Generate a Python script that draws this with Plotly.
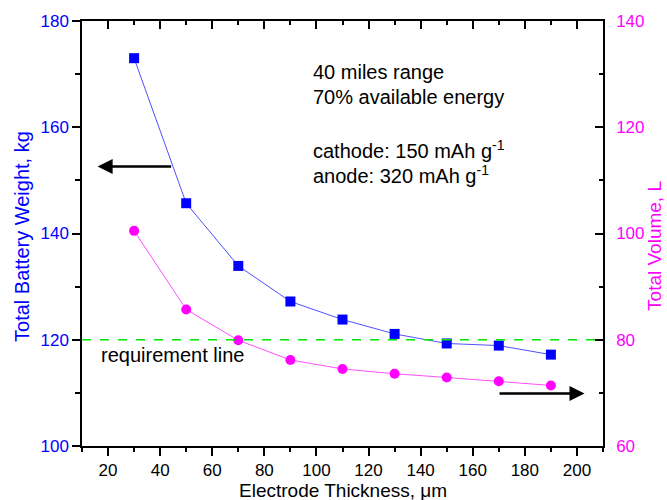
import plotly.graph_objects as go

thickness = [30, 50, 70, 90, 110, 130, 150, 170, 190]
weight_kg = [173.0, 145.7, 133.9, 127.2, 123.8, 121.1, 119.3, 118.9, 117.2]
volume_L = [100.5, 85.7, 79.9, 76.2, 74.5, 73.6, 72.9, 72.2, 71.4]
requirement_kg = 120

x_ticks = [20, 40, 60, 80, 100, 120, 140, 160, 180, 200]

FONT = "Arial, Liberation Sans, sans-serif"
BLUE = "#0000ff"
MAGENTA = "#ff00ff"

fig = go.Figure()

fig.add_trace(go.Scatter(
    x=thickness, y=weight_kg, mode="lines+markers",
    line=dict(color="#5050ff", width=1),
    marker=dict(symbol="square", size=10, color=BLUE),
    xaxis="x", yaxis="y", showlegend=False))

fig.add_trace(go.Scatter(
    x=thickness, y=volume_L, mode="lines+markers",
    line=dict(color="#ff50ff", width=1),
    marker=dict(symbol="circle", size=10, color=MAGENTA),
    xaxis="x", yaxis="y2", showlegend=False))

# dummy trace to draw the mirrored top axis
fig.add_trace(go.Scatter(x=[None], y=[None], xaxis="x2", yaxis="y",
                         showlegend=False, hoverinfo="skip"))

fig.add_shape(type="line", xref="paper", x0=0, x1=1, yref="y",
              y0=requirement_kg, y1=requirement_kg,
              line=dict(color="#00e600", width=1.5, dash="dash"))

annos = [
    dict(x=98, y=170.4, text="40 miles range"),
    dict(x=98, y=165.7, text="70% available energy"),
    dict(x=98, y=155.9, text="cathode: 150 mAh g<sup>-1</sup>"),
    dict(x=98, y=151.2, text="anode: 320 mAh g<sup>-1</sup>"),
    dict(x=16.4, y=117.1, text="requirement line"),
]
for a in annos:
    fig.add_annotation(xref="x", yref="y", x=a["x"], y=a["y"], text=a["text"],
                       showarrow=False, xanchor="left", yanchor="middle",
                       font=dict(family=FONT, size=20, color="black"))

# axis titles
fig.add_annotation(xref="paper", yref="paper", x=0.5, y=-0.104,
                   text="Electrode Thickness, \u03bcm", showarrow=False,
                   xanchor="center", yanchor="middle",
                   font=dict(family=FONT, size=19, color="black"))
fig.add_annotation(xref="paper", yref="paper", x=-0.115, y=0.492,
                   text="Total Battery Weight, kg", showarrow=False, textangle=-90,
                   xanchor="center", yanchor="middle",
                   font=dict(family=FONT, size=20, color=BLUE))
fig.add_annotation(xref="paper", yref="paper", x=1.1, y=0.471,
                   text="Total Volume, L", showarrow=False, textangle=-90,
                   xanchor="center", yanchor="middle",
                   font=dict(family=FONT, size=19, color=MAGENTA))

# arrows
fig.add_annotation(xref="x", yref="y", x=16, y=152.6, axref="x", ayref="y",
                   ax=44.8, ay=152.6, showarrow=True, arrowhead=2, arrowsize=1.2,
                   arrowwidth=2.5, arrowcolor="black", text="")
fig.add_annotation(xref="x", yref="y", x=202.9, y=109.9, axref="x", ayref="y",
                   ax=169.7, ay=109.9, showarrow=True, arrowhead=2, arrowsize=1.2,
                   arrowwidth=2.5, arrowcolor="black", text="")

fig.update_layout(
    width=667, height=500,
    margin=dict(l=82, r=64, t=21, b=54, autoexpand=False),
    paper_bgcolor="white", plot_bgcolor="white",
    font=dict(family=FONT, size=17, color="black"),
    xaxis=dict(range=[10, 210], tickvals=x_ticks, ticks="outside", ticklen=8,
               tickwidth=1.5, tickcolor="black", showline=True, linecolor="black",
               linewidth=1.5, showgrid=False, zeroline=False,
               minor=dict(dtick=10, tick0=0, ticks="outside", ticklen=4,
                          tickwidth=1.5, tickcolor="black")),
    xaxis2=dict(range=[10, 210], overlaying="x", side="top", anchor="y",
                tickvals=x_ticks, ticks="inside", ticklen=8, tickwidth=1.5,
                tickcolor="black", showticklabels=False, showline=True,
                linecolor="black", linewidth=1.5, showgrid=False, zeroline=False,
                minor=dict(dtick=10, tick0=0, ticks="inside", ticklen=4,
                           tickwidth=1.5, tickcolor="black")),
    yaxis=dict(range=[100, 180], dtick=20, ticks="outside", ticklen=8,
               tickwidth=1.5, tickcolor="black", showline=True, linecolor="black",
               linewidth=1.5, showgrid=False, zeroline=False,
               tickfont=dict(color=BLUE),
               minor=dict(dtick=10, ticks="outside", ticklen=5, tickwidth=1.5,
                          tickcolor="black")),
    yaxis2=dict(range=[60, 140], dtick=20, overlaying="y", side="right",
                anchor="x", ticks="inside", ticklen=8, tickwidth=1.5,
                tickcolor="black", showline=True, linecolor="black",
                linewidth=1.5, showgrid=False, zeroline=False,
                tickfont=dict(color=MAGENTA), ticklabelstandoff=8,
                minor=dict(dtick=10, ticks="inside", ticklen=4, tickwidth=1.5,
                           tickcolor="black")),
)

fig.write_html("out.html")
